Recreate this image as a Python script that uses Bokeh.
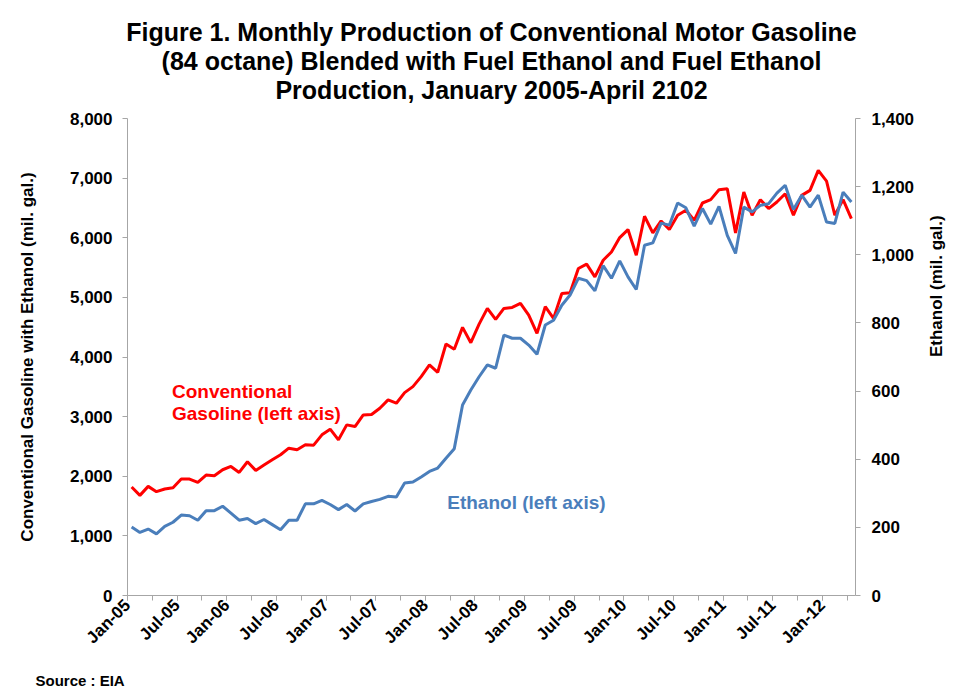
import math
import pandas as pd
from bokeh.plotting import figure
from bokeh.models import (Range1d, LinearAxis, FixedTicker, NumeralTickFormatter,
                          Label, Title, ColumnDataSource)
from bokeh.embed import file_html
from bokeh.resources import INLINE

# ---------------- data ----------------
months = pd.date_range("2005-01-01", periods=88, freq="MS")
month_labels = [d.strftime("%b-%y") for d in months]

gasoline = [1819, 1679, 1830, 1741, 1786, 1808, 1953, 1953, 1897, 2020, 2009, 2109,
            2164, 2064, 2243, 2098, 2187, 2276, 2360, 2471, 2443, 2527, 2521, 2695,
            2790, 2611, 2862, 2834, 3029, 3035, 3141, 3280, 3225, 3403, 3503, 3671,
            3866, 3744, 4218, 4129, 4497, 4240, 4552, 4815, 4631, 4815, 4832, 4899,
            4703, 4397, 4843, 4648, 5066, 5077, 5485, 5557, 5344, 5623, 5762, 6003,
            6137, 5707, 6360, 6081, 6282, 6137, 6377, 6460, 6293, 6583, 6639, 6806,
            6823, 6081, 6767, 6377, 6639, 6489, 6600, 6739, 6377, 6711, 6795, 7130,
            6951, 6377, 6639, 6321]

ethanol = [201, 185, 195, 181, 203, 215, 236, 234, 221, 249, 249, 262,
           242, 221, 226, 211, 223, 208, 193, 221, 221, 269, 269, 279,
           267, 252, 267, 248, 269, 276, 282, 291, 289, 330, 333, 348,
           364, 374, 403, 431, 559, 603, 642, 677, 667, 764, 755, 755,
           735, 708, 794, 808, 852, 882, 931, 924, 894, 968, 931, 982,
           935, 898, 1028, 1035, 1093, 1087, 1152, 1138, 1084, 1136, 1090, 1142,
           1057, 1004, 1140, 1126, 1145, 1150, 1181, 1204, 1133, 1175, 1140, 1175,
           1096, 1092, 1184, 1155]

tick_labels = ["Jan-05", "Jul-05", "Jan-06", "Jul-06", "Jan-07", "Jul-07", "Jan-08",
               "Jul-08", "Jan-09", "Jul-09", "Jan-10", "Jul-10", "Jan-11", "Jul-11",
               "Jan-12"]
left_ticks = [0, 1000, 2000, 3000, 4000, 5000, 6000, 7000, 8000]
right_ticks = [0, 200, 400, 600, 800, 1000, 1200, 1400]

title_lines = ["Figure 1. Monthly Production of Conventional Motor Gasoline",
               "(84 octane) Blended with Fuel Ethanol and Fuel Ethanol",
               "Production, January 2005-April 2102"]

# ---------------- figure ----------------
FONT = "Liberation Sans"
RED = "#FF0000"
BLUE = "#4A7EBB"
AXIS_GRAY = "#A6A6A6"

n = len(gasoline)
xpos = [i + 0.5 for i in range(n)]  # category centres
src = ColumnDataSource(dict(x=xpos, month=month_labels, gas=gasoline, eth=ethanol))

p = figure(width=958, height=700, output_backend="svg", toolbar_location=None,
           x_range=Range1d(0, n), y_range=Range1d(0, 8000),
           min_border_left=127, min_border_right=95, min_border_top=118,
           min_border_bottom=104)
p.extra_y_ranges = {"eth": Range1d(0, 1400)}
p.outline_line_color = None
p.xgrid.visible = False
p.ygrid.visible = False
p.background_fill_color = "white"
p.border_fill_color = "white"

p.line("x", "gas", source=src, line_color=RED, line_width=3)
p.line("x", "eth", source=src, line_color=BLUE, line_width=3, y_range_name="eth")

# x axis
xa = p.xaxis[0]
major_x = [6 * k for k in range(len(tick_labels))]
xa.ticker = FixedTicker(ticks=major_x, minor_ticks=list(range(0, n, 3)))
xa.major_label_overrides = {t: lab for t, lab in zip(major_x, tick_labels)}
xa.major_label_orientation = math.pi / 4
xa.axis_line_color = AXIS_GRAY
xa.major_tick_line_color = AXIS_GRAY
xa.minor_tick_line_color = AXIS_GRAY
xa.major_tick_in = 0
xa.major_tick_out = 5
xa.minor_tick_in = 0
xa.minor_tick_out = 5
xa.major_label_standoff = 2
xa.major_label_text_font = FONT
xa.major_label_text_font_style = "bold"
xa.major_label_text_font_size = "17px"
xa.major_label_text_color = "black"

# left axis
ya = p.yaxis[0]
ya.ticker = FixedTicker(ticks=left_ticks)
ya.formatter = NumeralTickFormatter(format="0,0")
ya.axis_label = "Conventional Gasoline with Ethanol (mil. gal.)"
ya.axis_label_standoff = 30
ya.axis_label_text_font = FONT
ya.axis_label_text_font_style = "bold"
ya.axis_label_text_font_size = "17px"
ya.axis_label_text_color = "black"

# right axis
ra = LinearAxis(y_range_name="eth", ticker=FixedTicker(ticks=right_ticks),
                formatter=NumeralTickFormatter(format="0,0"),
                axis_label="Ethanol (mil. gal.)")
ra.axis_label_standoff = 19
ra.axis_label_text_font = FONT
ra.axis_label_text_font_style = "bold"
ra.axis_label_text_font_size = "17px"
ra.axis_label_text_color = "black"
if "axis_label_orientation" in ra.properties():
    ra.axis_label_orientation = math.pi / 2
p.add_layout(ra, "right")

for ax in (ya, ra):
    ax.axis_line_color = AXIS_GRAY
    ax.major_tick_line_color = AXIS_GRAY
    ax.minor_tick_line_color = None
    ax.major_tick_in = 0
    ax.major_tick_out = 5
    ax.major_label_standoff = 10
    ax.major_label_text_font = FONT
    ax.major_label_text_font_style = "bold"
    ax.major_label_text_font_size = "17px"
    ax.major_label_text_color = "black"
ra.major_label_standoff = 11

# small spacer between the frame and the title block
p.add_layout(Title(text=" ", text_font_size="5px", standoff=7), "above")
# title: three centred lines above the frame (last added = top line)
for txt, so in zip(reversed(title_lines), [-1, -1, 0]):
    p.add_layout(Title(text=txt, align="center", offset=-7, standoff=so,
                       text_font=FONT, text_font_style="bold",
                       text_font_size="25px", text_color="black"), "above")

# series annotations (inside the plot area)
p.add_layout(Label(x=5.38, y=3414, text="Conventional", text_font=FONT,
                   text_font_style="bold", text_font_size="19px", text_color=RED,
                   text_baseline="alphabetic"))
p.add_layout(Label(x=5.38, y=3058, text="Gasoline (left axis)", text_font=FONT,
                   text_font_style="bold", text_font_size="19px", text_color=RED,
                   text_baseline="alphabetic"))
p.add_layout(Label(x=38.65, y=1556, text="Ethanol (left axis)", text_font=FONT,
                   text_font_style="bold", text_font_size="19px", text_color=BLUE,
                   text_baseline="alphabetic"))

# source note below the axis
p.add_layout(Title(text="Source : EIA", align="left", offset=-92, standoff=24,
                   text_font=FONT, text_font_style="bold", text_font_size="15px",
                   text_color="black"), "below")

open("out.html", "w").write(file_html(p, INLINE))
